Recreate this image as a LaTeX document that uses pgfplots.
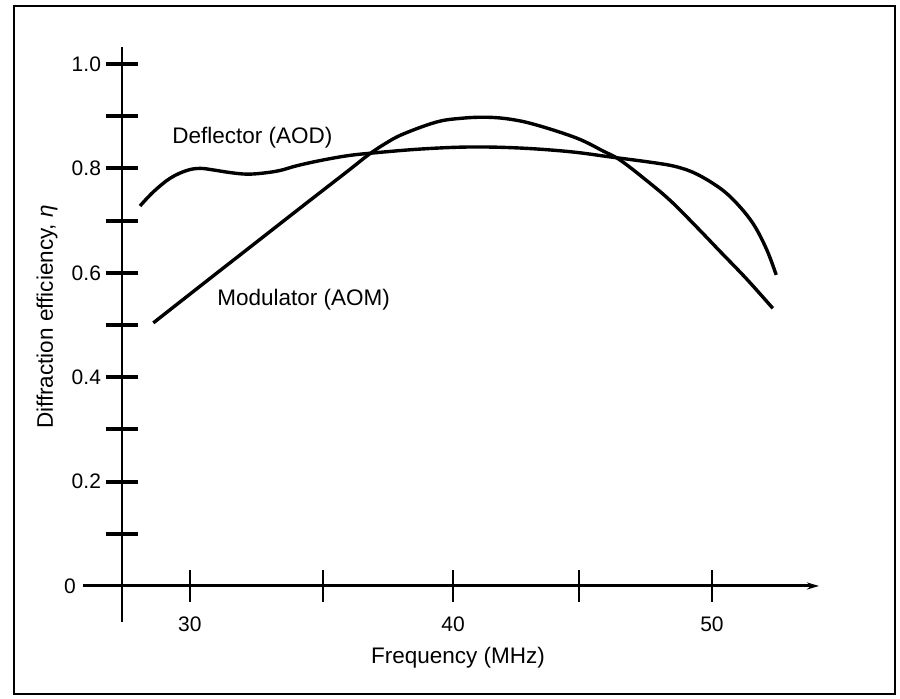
\documentclass[border=0pt]{standalone}
\usepackage{pgfplots}
\pgfplotsset{compat=1.18}
\usepackage{pgfplotstable}
\usepackage{fontspec}
\setmainfont{Liberation Sans}
\usetikzlibrary{arrows.meta}

% Deflector (AOD): frequency (MHz), efficiency
\pgfplotstableread{
f eta
28.09 0.728
28.60 0.755
29.24 0.781
29.88 0.796
30.39 0.800
30.90 0.797
31.54 0.792
32.18 0.789
32.81 0.791
33.45 0.796
34.09 0.805
34.99 0.815
36.00 0.824
36.90 0.829
38.82 0.837
40.73 0.841
42.65 0.839
44.56 0.832
46.10 0.822
47.76 0.811
48.65 0.803
49.42 0.789
50.31 0.762
50.95 0.733
51.59 0.693
52.10 0.644
52.46 0.596
}\aod

% Modulator (AOM)
\pgfplotstableread{
f eta
28.60 0.504
30.51 0.579
32.43 0.654
34.35 0.729
36.00 0.793
36.84 0.826
37.50 0.848
38.18 0.866
39.46 0.889
40.40 0.896
41.37 0.898
42.30 0.894
43.29 0.883
44.82 0.858
45.84 0.833
46.48 0.816
47.44 0.779
48.39 0.739
49.35 0.691
50.31 0.641
51.33 0.588
52.33 0.532
}\aom

\begin{document}
\begin{tikzpicture}
\useasboundingbox (0,0) rectangle (450pt,349.5pt);
\draw[line width=1pt] (7pt,2.5pt) rectangle (447.5pt,346.5pt);
\begin{axis}[
  at={(41.5pt,38.5pt)}, anchor=south west,
  scale only axis, width=368pt, height=287.5pt,
  xmin=-1.494, xmax=26.70, ymin=-0.069, ymax=1.0326,
  enlargelimits=false, clip=false,
  axis lines=middle,
  x axis line style={line width=1.5pt, -{Stealth[length=6pt,width=3.5pt]}},
  y axis line style={line width=1.2pt, -},
  xtick={2.6,7.7,12.68,17.51,22.6},
  xticklabels={30,,40,,50},
  ytick={0.1,0.2,0.3,0.4,0.5,0.6,0.7,0.8,0.9,1.0},
  yticklabels={,0.2,,0.4,,0.6,,0.8,,1.0},
  tick align=center,
  major tick length=16pt,
  xtick style={line width=1.2pt, black},
  ytick style={line width=2pt, black},
  tick label style={font=\fontsize{10.5}{12}\selectfont},
  /pgf/number format/assume math mode=true,
  xticklabel style={anchor=north, yshift=-4pt},
  yticklabel style={anchor=east, xshift=1pt},
]
\addplot[black, line width=1.7pt, smooth, tension=0.6] table[x expr=\thisrow{f}-27.4, y=eta] {\aod};
\addplot[black, line width=1.7pt, smooth, tension=0.6] table[x expr=\thisrow{f}-27.4, y=eta] {\aom};
\end{axis}
\node[font=\fontsize{10.5}{12}\selectfont] at (35pt,56.5pt) {0};
\node[anchor=west, inner sep=0pt, font=\fontsize{11.25}{13.5}\selectfont] at (86pt,280.5pt) {Deflector (AOD)};
\node[anchor=west, inner sep=0pt, font=\fontsize{11.25}{13.5}\selectfont] at (108.5pt,199.5pt) {Modulator (AOM)};
\node[font=\fontsize{11.25}{13.5}\selectfont] at (229pt,20.5pt) {Frequency (MHz)};
\node[rotate=90, font=\fontsize{11.25}{13.5}\selectfont] at (23.5pt,191pt) {Diffraction efficiency, \textit{η}};
\end{tikzpicture}
\end{document}
